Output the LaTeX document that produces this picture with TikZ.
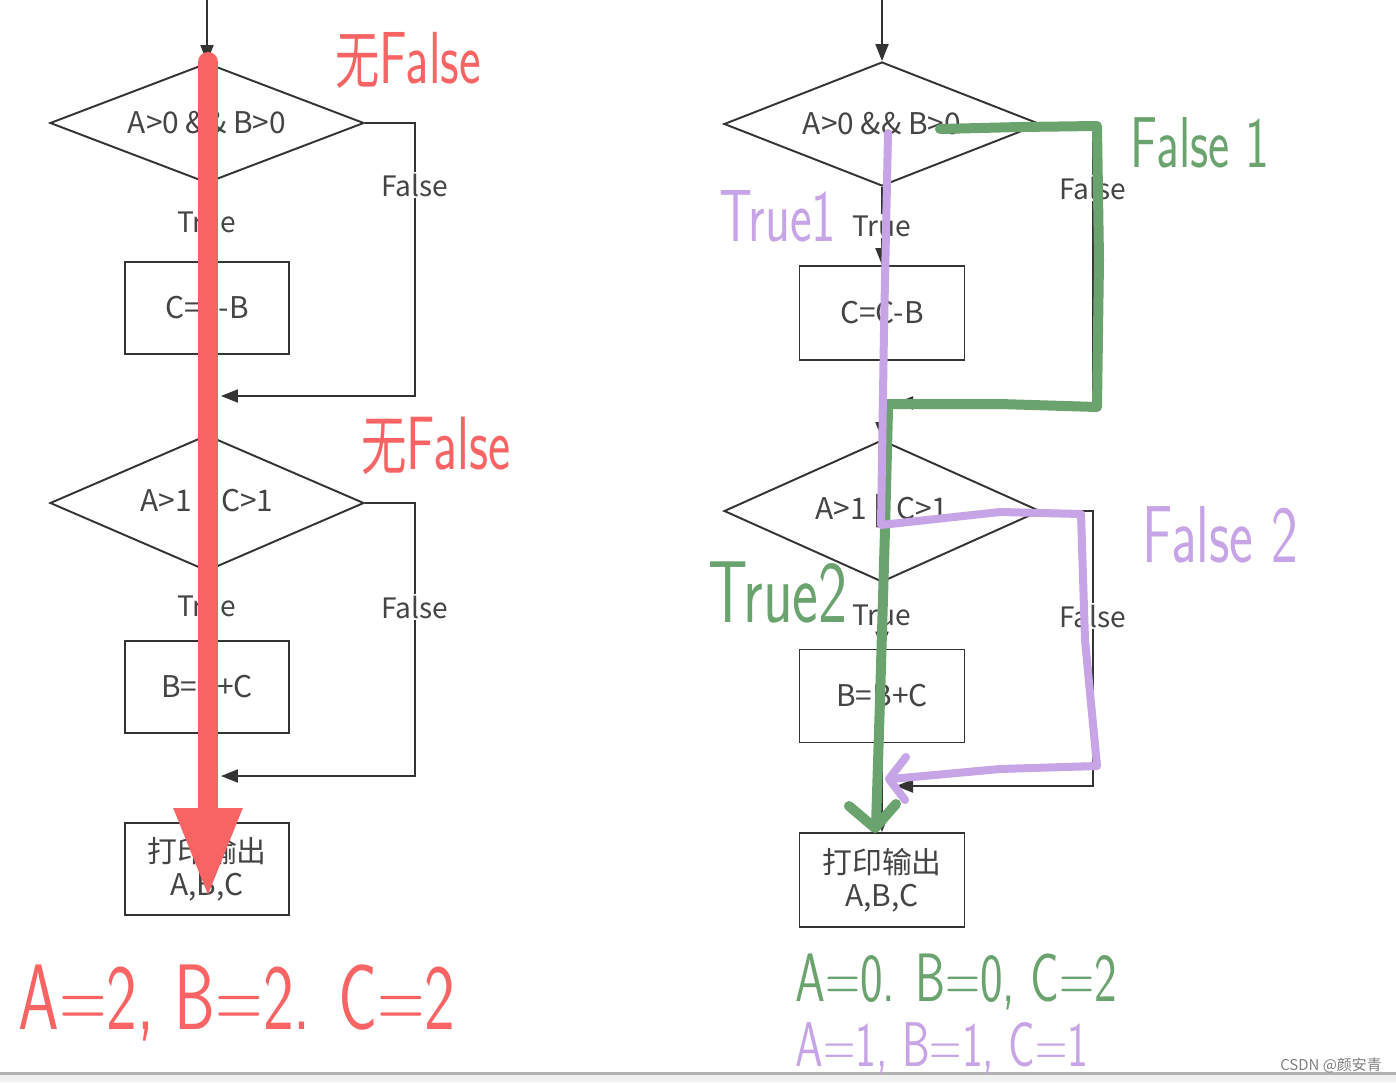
\documentclass[tikz,border=0pt]{standalone}
\usepackage{fontspec}
\setmainfont{Noto Sans CJK SC}
\usepackage{tikz}
\usetikzlibrary{arrows.meta,shapes.geometric}
\definecolor{hred}{RGB}{248,100,100}
\definecolor{hgreen}{RGB}{107,163,111}
\definecolor{hpurple}{RGB}{198,164,230}
\definecolor{fline}{RGB}{51,51,51}
\definecolor{ftext}{RGB}{68,68,68}

\begin{document}
\begin{tikzpicture}[x=0.02cm, y=-0.02cm,
	cond/.style={diamond, draw=fline, line width=1.1pt, inner sep=0pt, aspect=3, minimum width=6.28cm, text=ftext, font=\fontsize{17}{19}\selectfont},
	act/.style={rectangle, draw=fline, line width=1.1pt, minimum width=3.28cm, minimum height=1.84cm, align=center, text=ftext, font=\fontsize{17}{18.5}\selectfont},
	flow/.style={draw=fline, line width=1.1pt, -{Triangle[length=0.34cm, width=0.26cm]}},
	lbl/.style={fill=white, inner sep=1pt, text=ftext, font=\fontsize{16}{18}\selectfont},
	hand/.style={inner sep=0pt, font=\sffamily\fontsize{#1}{#1}\selectfont},
	stroke/.style={line cap=round, line join=round}]
	\fill[white] (0,0) rectangle (1396,1082);
	\useasboundingbox (0,0) rectangle (1396,1082);
	\fill[gray!60] (0,1072) rectangle (1396,1075);
	\fill[gray!12] (0,1075) rectangle (1396,1082);

	% left chart
	\coordinate (s1) at (207,0);
	\node[cond, minimum height=2.4cm] (a1) at (207,123) {A>0 \&\& B>0};
	\node[act] (c1) at (207,308) {C=C-B};
	\node[cond, minimum height=2.72cm] (a2) at (207,503) {A>1 || C>1};
	\node[act] (c2) at (207,687) {B=B+C};
	\node[act] (out1) at (207,869) {打印输出\\A,B,C};
	\coordinate (k1) at (415,396); \coordinate (m1) at (221,396);
	\coordinate (k2) at (415,776); \coordinate (m2) at (221,776);
	\draw[flow] (s1) -- (a1);
	\draw[flow] (a1) -- node[lbl] (t1) {True} (c1);
	\draw[flow] (c1) -- (a2);
	\draw[flow] (a2) -- node[lbl] (t2) {True} (c2);
	\draw[flow] (c2) -- (out1);
	\draw[flow] (a1.east) -| (k1) -- (m1);
	\draw[flow] (a2.east) -| (k2) -- (m2);
	\node[lbl] (f1) at (415,185) {False};
	\node[lbl] (f2) at (415,607) {False};

	% right chart
	\coordinate (s2) at (882,0);
	\node[cond, minimum width=6.32cm, minimum height=2.48cm] (b1) at (882,124) {A>0 \&\& B>0};
	\node[act, minimum width=3.3cm, minimum height=1.88cm] (d1) at (882,313) {C=C-B};
	\node[cond, minimum width=6.32cm, minimum height=2.84cm] (b2) at (882,511) {A>1 || C>1};
	\node[act, minimum width=3.3cm, minimum height=1.86cm] (d2) at (882,696) {B=B+C};
	\node[act, minimum width=3.3cm, minimum height=1.88cm] (out2) at (882,880) {打印输出\\A,B,C};
	\coordinate (k3) at (1093,403); \coordinate (m3) at (896,403);
	\coordinate (k4) at (1093,786); \coordinate (m4) at (896,786);
	\draw[flow] (s2) -- (b1);
	\draw[flow] (b1) -- node[lbl] (t3) {True} (d1);
	\draw[flow] (d1) -- (b2);
	\draw[flow] (b2) -- node[lbl] (t4) {True} (d2);
	\draw[flow] (d2) -- (out2);
	\draw[flow] (b1.east) -| (k3) -- (m3);
	\draw[flow] (b2.east) -| (k4) -- (m4);
	\node[lbl] (f3) at (1093,188) {False};
	\node[lbl] (f4) at (1093,616) {False};

	% red marker
	\draw[hred, line width=0.4cm, line cap=round, -{Triangle[length=1.8cm, width=1.26cm]}] (208,62) -- (208,898);
	\node[hand=42, text=hred] (nf1) at (408,60) {\scalebox{.7}[1]{{\rmfamily\fontsize{36}{36}\selectfont 无}False}};
	\node[hand=43, text=hred] (nf2) at (436,446) {\scalebox{.7}[1]{{\rmfamily\fontsize{37}{37}\selectfont 无}False}};
	\node[hand=53, text=hred] (r1) at (237,1003) {\scalebox{.7}[1]{A=2, B=2. C=2}};

	% green and purple strokes
	\draw[hgreen, line width=0.2cm, stroke] (940,129) -- (1020,127) -- (1097,126) -- (1099,260) -- (1097,407) -- (1000,404) -- (888,404);
	\draw[hgreen, line width=0.2cm, stroke] (888,410) -- (885,530) -- (880,700) -- (876,826);
	\draw[hgreen, line width=0.2cm, stroke] (849,806) -- (875,828) -- (896,804);
	\draw[hpurple, line width=0.16cm, stroke] (888,133) -- (884,330) -- (881,525) -- (1000,512) -- (1081,514) -- (1085,640) -- (1097,766) -- (1000,769) -- (891,779);
	\draw[hpurple, line width=0.16cm, stroke] (906,757) -- (889,779) -- (905,800);
	\node[hand=42, text=hpurple] (tr1) at (778,216) {\scalebox{.7}[1]{True1}};
	\node[hand=41, text=hgreen] (fl1) at (1200,143) {\scalebox{.7}[1]{False 1}};
	\node[hand=46, text=hpurple] (fl2) at (1220,535) {\scalebox{.7}[1]{False 2}};
	\node[hand=50, text=hgreen] (tr2) at (778,592) {\scalebox{.7}[1]{True2}};
	\node[hand=39, text=hgreen] (v1) at (956,982) {\scalebox{.7}[1]{A=0. B=0, C=2}};
	\node[hand=36, text=hpurple] (v2) at (942,1048) {\scalebox{.7}[1]{A=1, B=1, C=1}};
	\node[text=gray, font=\fontsize{8.5}{9}\selectfont] (wm) at (1331,1065) {CSDN @颜安青};
\end{tikzpicture}
\end{document}
